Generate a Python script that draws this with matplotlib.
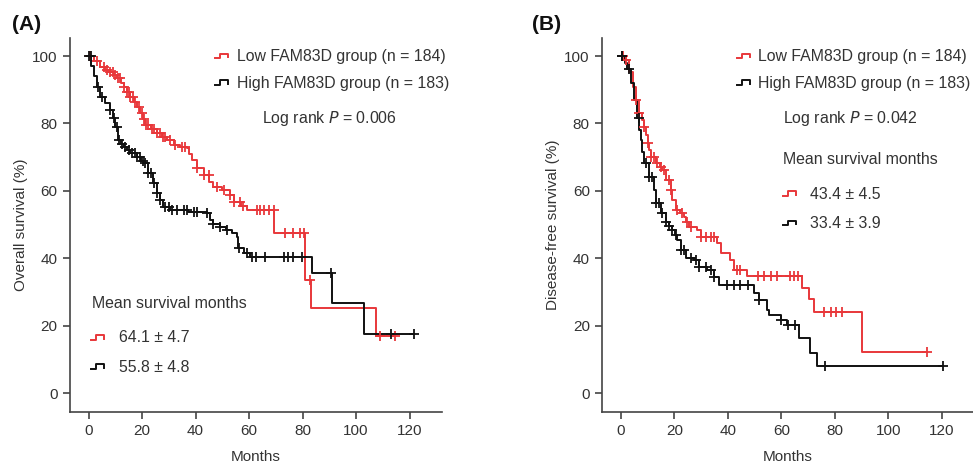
import numpy as np
import matplotlib
matplotlib.use("Agg")
import matplotlib.pyplot as plt

plt.rcParams['font.family'] = ['Liberation Sans', 'DejaVu Sans']

# ---- Panel A: overall survival (step knots: time, survival after the drop)
a_low_t = [0, 2, 4.4, 6, 8.1, 9.5, 10.6, 12, 13.1, 14.4, 15.6, 17, 18.1, 19.3, 20.2,
           21.2, 23.5, 25.6, 27.5, 29.3, 31.8, 34, 36.8, 37.6, 38.6, 40.5, 43, 45,
           46.7, 50, 53, 54.2, 57, 59.2, 69.5, 81, 83.3, 107.3]
a_low_s = [100, 98.5, 96.8, 96, 95.3, 94.3, 93.4, 92, 90.9, 89.4, 87.9, 86.4, 85, 83,
           81.2, 79.5, 78.3, 77.1, 76.1, 75.1, 73.7, 73.1, 72.6, 70.8, 69.1, 66.7, 64.7,
           62.7, 61.2, 60.2, 58.8, 56.8, 55.5, 54.3, 47.4, 33.5, 25.1, 17.0]
a_low_cens = [0.5, 3, 5.6, 7, 8.1, 9, 10, 11, 11.9, 13.1, 14.4, 15, 15.6, 16.5, 17.5, 18.7,
              19.8, 20.6, 21.5, 22.4, 23.7, 24.6, 25.6, 26.8, 27.8, 28.7, 30.5, 32.4,
              34.9, 36.1, 40.5, 43, 44.9, 48, 50.5, 53, 54.2, 56.7, 57.9, 62.9, 64.2,
              65.4, 67.3, 69.2, 73.5, 76.6, 79.1, 80.6, 82.6, 108.8, 114.7]

a_high_t = [0, 1, 2, 3.1, 4.4, 6, 8.1, 9.2, 10, 11.2, 12, 13.1, 14.4, 15.6, 18, 19.5,
            20.6, 22.4, 24, 25.6, 26.8, 28, 30.5, 37, 44.3, 45.5, 46.7, 49, 51.2, 53.5,
            55.5, 56, 58, 60.4, 83.7, 91, 102.8]
a_high_s = [100, 97, 94, 90.9, 87.9, 86, 84, 81.5, 79, 75, 74, 73.1, 72, 71.1, 70, 69,
            68.2, 65.2, 62.3, 59.3, 57.3, 55.3, 54.3, 53.8, 53.3, 51.5, 50.3, 49.4, 48.4,
            47.4, 46.4, 42.9, 41.5, 40.4, 35.5, 26.6, 17.5]
a_high_cens = [0.3, 0.8, 3.7, 5, 8.1, 9.5, 10.6, 11.5, 12.5, 13.7, 15, 16.2, 17.2, 18.1,
               19.3, 20.2, 21.2, 22.4, 23.3, 24.3, 25.6, 26.8, 28.5, 29.9, 31.2, 33,
               35.5, 36.8, 39.3, 40.5, 44.3, 46.7, 49.2, 51.7, 56.1, 59.2, 61.1, 62.7,
               66.1, 72.9, 74.4, 76.4, 79.8, 90.6, 113.2, 121.5]

# ---- Panel B: disease-free survival
b_low_t = [0, 1.9, 3.1, 4.4, 5.6, 6.8, 7.8, 8.7, 9.4, 10, 10.6, 11.2, 13.1, 14.5, 15.6,
           16.8, 18.7, 19.3, 20.5, 22, 23.6, 24.5, 25.5, 28.6, 29.9, 36.1, 37.3, 41,
           42.3, 47.3, 67.8, 70.3, 72.1, 90.2]
b_low_s = [100, 98.8, 95.3, 90.9, 86.9, 83, 81, 79, 76.5, 74.1, 72, 70.1, 68.2, 67.2,
           66.2, 63.2, 60.2, 57.3, 54.3, 53.3, 52.3, 50.8, 49.3, 48.4, 46.4, 44.4, 41.5,
           39.5, 36.5, 34.8, 31.1, 27.8, 24.2, 12.2]
b_low_cens = [0.8, 1.9, 5.6, 6.8, 8.7, 10, 11.2, 12.4, 13.7, 14.9, 16.2, 18, 18.7, 21.2,
              23, 24.9, 26.1, 29.9, 31.7, 33.6, 34.8, 43.3, 44.5, 51.2, 53.5, 56.3, 58.5,
              63.4, 64.7, 66.2, 75.9, 78.7, 80.6, 82.7, 114.4]

b_high_t = [0, 1.5, 2.5, 3.7, 5, 6.2, 7, 7.5, 8.1, 8.7, 10.6, 12.4, 13.1, 14.9, 16.8, 18,
            19.3, 20.2, 21.1, 22.4, 24.3, 27.4, 29.2, 32.3, 34.8, 36.7, 49.7, 51.6, 54.7,
            55.5, 59.7, 62.2, 66.5, 70.9, 73.4]
b_high_s = [100, 98, 96.3, 91.9, 86.9, 81.5, 78, 75.1, 71.5, 68.2, 64.2, 60.2, 56.3, 53.3,
            50.8, 49.5, 48.4, 47, 45.4, 42.4, 40, 39.5, 37.5, 36.5, 34.5, 32, 29.6, 27.6,
            24.6, 23.1, 21.7, 20.2, 16.2, 11.8, 8.0]
b_high_cens = [0.3, 0.6, 3.1, 6.8, 9.3, 10.6, 11.8, 13.1, 14.3, 15.6, 16.8, 18, 19.3, 20.5,
               22.4, 23.6, 26.1, 28, 29.2, 31.7, 33.6, 34.8, 39.7, 42.3, 44.5, 47.6, 51.6,
               59.7, 62.4, 65.3, 76.5, 120.6]

panel_labels = ["(A)", "(B)"]
y_labels = ["Overall survival (%)", "Disease-free survival (%)"]
legend_labels = ["Low FAM83D group (n = 184)", "High FAM83D group (n = 183)"]
p_texts = ["0.006", "0.042"]
means = [["64.1 ± 4.7", "55.8 ± 4.8"], ["43.4 ± 4.5", "33.4 ± 3.9"]]

RED = '#e8373a'
BLK = '#111111'
TXT = '#333333'
FS = 11.4


def km(ax, t, s, cens, color):
    t = np.array(t, float)
    s = np.array(s, float)
    cens = np.array(cens, float)
    end = max(t[-1], cens.max())
    tt = np.append(t, end)
    ss = np.append(s, s[-1])
    ax.step(tt, ss, where='post', color=color, lw=1.4, zorder=3)
    idx = np.searchsorted(t, cens, side='right') - 1
    ax.plot(cens, s[idx], ls='none', marker='+', ms=7, mew=1.3, color=color, zorder=4)


def glyph(ax, x, y, color, w=0.034):
    # little Kaplan-Meier step symbol used as legend key
    xs = [x, x + w * 0.4, x + w * 0.4, x + w, x + w]
    ys = [y - 0.005, y - 0.005, y + 0.007, y + 0.007, y - 0.003]
    ax.plot(xs, ys, color=color, lw=1.4, transform=ax.transAxes, clip_on=False)


fig = plt.figure(figsize=(9.73, 4.66), dpi=100)
axes = [fig.add_axes([0.072, 0.116, 0.382, 0.802]),
        fig.add_axes([0.619, 0.116, 0.382, 0.802])]

curves = [[(a_low_t, a_low_s, a_low_cens), (a_high_t, a_high_s, a_high_cens)],
          [(b_low_t, b_low_s, b_low_cens), (b_high_t, b_high_s, b_high_cens)]]

for i, ax in enumerate(axes):
    for (t, s, c), col in zip(curves[i], [RED, BLK]):
        km(ax, t, s, c, col)
    ax.set_xlim(-6.9, 132)
    ax.set_ylim(-5.6, 105.3)
    ax.set_xticks(range(0, 121, 20))
    ax.set_yticks(range(0, 101, 20))
    for sp in ['top', 'right']:
        ax.spines[sp].set_visible(False)
    for sp in ['left', 'bottom']:
        ax.spines[sp].set_color('#444444')
        ax.spines[sp].set_linewidth(1.2)
    ax.tick_params(direction='out', length=5, width=1.2, color='#444444',
                   labelcolor=TXT, labelsize=11, pad=4)
    ax.set_xlabel("Months", fontsize=11, color=TXT, labelpad=8)
    ax.set_ylabel(y_labels[i], fontsize=11, color=TXT, labelpad=3)

# panel A annotations
ax = axes[0]
for k, (lab, col) in enumerate(zip(legend_labels, [RED, BLK])):
    yy = [0.952, 0.880][k]
    glyph(ax, 0.390, yy, col)
    ax.text(0.449, yy, lab, transform=ax.transAxes, fontsize=FS, color=TXT, va='center')
ax.text(0.699, 0.786, "Log rank $\\it{P}$ = " + p_texts[0], transform=ax.transAxes,
        fontsize=FS, color=TXT, va='center', ha='center')
ax.text(0.059, 0.291, "Mean survival months", transform=ax.transAxes, fontsize=FS,
        color=TXT, va='center')
for k, col in enumerate([RED, BLK]):
    yy = [0.198, 0.120][k]
    glyph(ax, 0.056, yy, col)
    ax.text(0.132, yy, means[0][k], transform=ax.transAxes, fontsize=FS, color=TXT,
            va='center')

# panel B annotations
ax = axes[1]
for k, (lab, col) in enumerate(zip(legend_labels, [RED, BLK])):
    yy = [0.952, 0.880][k]
    glyph(ax, 0.363, yy, col)
    ax.text(0.419, yy, lab, transform=ax.transAxes, fontsize=FS, color=TXT, va='center')
ax.text(0.487, 0.786, "Log rank $\\it{P}$ = " + p_texts[1], transform=ax.transAxes,
        fontsize=FS, color=TXT, va='center')
ax.text(0.487, 0.676, "Mean survival months", transform=ax.transAxes, fontsize=FS,
        color=TXT, va='center')
for k, col in enumerate([RED, BLK]):
    yy = [0.583, 0.505][k]
    glyph(ax, 0.487, yy, col)
    ax.text(0.559, yy, means[1][k], transform=ax.transAxes, fontsize=FS, color=TXT,
            va='center')

fig.text(0.012, 0.935, panel_labels[0], fontsize=15, fontweight='bold', color='#111111')
fig.text(0.547, 0.935, panel_labels[1], fontsize=15, fontweight='bold', color='#111111')

fig.savefig("out.png", dpi=100)
